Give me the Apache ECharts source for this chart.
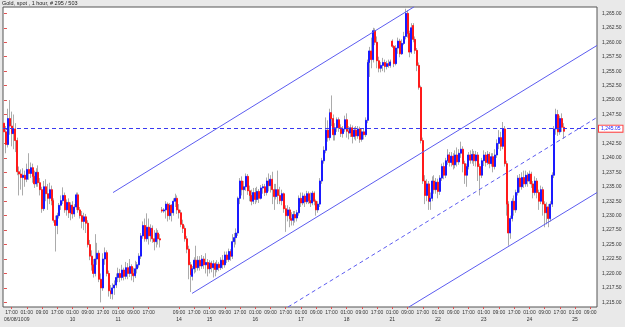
<!DOCTYPE html>
<html><head><meta charset="utf-8">
<script src="https://cdn.jsdelivr.net/npm/echarts@6/dist/echarts.min.js"></script>
<style>html,body{margin:0;padding:0;background:#e9e9e9}#c{width:625px;height:327px}</style>
</head><body><div id="c"></div>
<script>
const chartTitle = 'Gold, spot , 1 hour, # 295 / 503';
const firstDateLabel = '06/08/10';
// hourly sessions: [date, first hour, last hour]
const daySegments = [
  ['06/08',13,23],['06/09',0,23],['06/10',0,23],['06/11',0,23],['06/13',23,23],['06/14',0,0],['06/14',2,23],
  ['06/15',0,23],['06/16',0,23],['06/17',0,23],['06/18',0,21],['06/20',22,23],['06/21',0,23],['06/22',0,23],
  ['06/23',0,23],['06/24',0,23],['06/25',0,12]
];
const labelHours = [1, 9, 17];
const yTickValues = [1215,1217.5,1220,1222.5,1225,1227.5,1230,1232.5,1235,1237.5,1240,1242.5,1245,1247.5,1250,1252.5,1255,1257.5,1260,1262.5,1265];
const currentPrice = 1245.05;

const opens = [
1246.0,1244.5,1242.3,1246.8,1245.5,1244.2,1245.0,1243.0,1237.6,1237.2,
1236.6,1237.0,1236.3,1238.0,1237.3,1238.3,1236.8,1235.5,1237.5,1235.7,
1234.5,1231.2,1235.0,1233.8,1233.0,1234.5,1232.6,1229.2,1228.3,1230.0,
1231.8,1232.6,1233.5,1231.0,1232.3,1230.5,1231.8,1230.3,1231.5,1233.6,
1231.0,1230.0,1229.0,1229.8,1228.7,1225.0,1223.0,1221.5,1220.0,1222.5,
1223.5,1219.0,1217.5,1222.5,1223.6,1220.0,1217.0,1216.5,1217.5,1218.0,
1219.3,1220.0,1219.3,1220.6,1219.5,1221.0,1220.0,1221.2,1220.0,1219.6,
1220.8,1221.5,1223.0,1226.5,1228.3,1226.0,1228.0,1226.5,1227.8,1226.0,
1225.5,1227.0,1226.0,1231.0,1230.8,1231.0,1232.0,1230.0,1231.8,1230.5,
1232.5,1233.0,1231.0,1230.5,1228.5,1227.8,1226.0,1224.2,1221.5,1219.5,
1220.8,1222.3,1221.0,1222.3,1221.3,1222.5,1221.5,1221.9,1220.8,1221.8,
1221.0,1221.7,1220.7,1221.6,1221.0,1222.3,1221.5,1223.2,1222.4,1223.8,
1223.0,1225.5,1226.2,1227.0,1233.0,1236.0,1234.5,1235.0,1236.8,1234.3,
1233.5,1232.5,1234.0,1232.8,1234.2,1233.0,1234.8,1235.0,1234.0,1236.0,
1235.2,1236.3,1234.5,1233.3,1234.5,1233.5,1232.6,1233.8,1231.2,1230.0,
1231.0,1229.5,1229.2,1230.2,1229.6,1230.5,1233.0,1232.2,1233.4,1232.4,
1233.8,1232.6,1232.2,1233.9,1232.5,1231.0,1232.0,1236.0,1239.5,1241.3,
1244.8,1243.5,1247.8,1246.8,1244.0,1245.2,1246.6,1245.2,1244.2,1245.0,
1246.6,1244.6,1244.3,1245.2,1243.7,1244.8,1243.8,1245.0,1243.2,1244.5,
1244.0,1246.5,1256.5,1258.5,1257.0,1262.0,1260.0,1256.8,1255.5,1256.0,
1256.5,1255.8,1256.3,1256.0,1260.2,1259.3,1256.3,1259.0,1260.2,1258.0,
1259.8,1261.0,1265.0,1261.5,1258.3,1262.9,1260.5,1258.6,1256.0,1252.2,
1243.0,1236.0,1233.5,1235.5,1232.5,1233.0,1236.0,1234.5,1235.8,1234.2,
1236.5,1238.5,1237.0,1239.5,1240.5,1239.2,1240.3,1238.8,1240.5,1239.3,
1240.8,1241.5,1239.0,1237.0,1238.5,1240.5,1239.6,1240.6,1239.5,1240.5,
1238.5,1237.0,1239.5,1240.5,1239.2,1240.6,1239.0,1240.2,1238.5,1240.5,
1242.5,1243.5,1242.0,1245.0,1239.0,1232.0,1227.0,1229.5,1232.5,1231.0,
1234.0,1236.5,1235.0,1236.6,1235.5,1237.0,1236.0,1237.2,1235.5,1234.0,
1236.0,1234.0,1232.5,1234.5,1232.0,1230.5,1231.5,1229.5,1232.0,1237.0,
1245.0,1247.5,1244.5,1246.8,1245.3
];
const closes = [
1244.5,1242.3,1246.8,1245.5,1244.2,1245.0,1243.0,1237.6,1237.2,1236.6,
1237.0,1236.3,1238.0,1237.3,1238.3,1236.8,1235.5,1237.5,1235.7,1234.5,
1231.2,1235.0,1233.8,1233.0,1234.5,1232.6,1229.2,1228.3,1230.0,1231.8,
1232.6,1233.5,1231.0,1232.3,1230.5,1231.8,1230.3,1231.5,1233.6,1231.0,
1230.0,1229.0,1229.8,1228.7,1225.0,1223.0,1221.5,1220.0,1222.5,1223.5,
1219.0,1217.5,1222.5,1223.6,1220.0,1217.0,1216.5,1217.5,1218.0,1219.3,
1220.0,1219.3,1220.6,1219.5,1221.0,1220.0,1221.2,1220.0,1219.6,1220.8,
1221.5,1223.0,1226.5,1228.3,1226.0,1228.0,1226.5,1227.8,1226.0,1225.5,
1227.0,1226.0,1225.8,1230.8,1231.0,1232.0,1230.0,1231.8,1230.5,1232.5,
1233.0,1231.0,1230.5,1228.5,1227.8,1226.0,1224.2,1221.5,1219.8,1220.8,
1222.3,1221.0,1222.3,1221.3,1222.5,1221.5,1221.9,1220.8,1221.8,1221.0,
1221.7,1220.7,1221.6,1221.0,1222.3,1221.5,1223.2,1222.4,1223.8,1223.0,
1225.5,1226.2,1227.0,1233.0,1236.0,1234.5,1235.0,1236.8,1234.3,1233.5,
1232.5,1234.0,1232.8,1234.2,1233.0,1234.8,1235.0,1234.0,1236.0,1235.2,
1236.3,1234.5,1233.3,1234.5,1233.5,1232.6,1233.8,1231.2,1230.0,1231.0,
1229.5,1229.2,1230.2,1229.6,1230.5,1233.0,1232.2,1233.4,1232.4,1233.8,
1232.6,1232.2,1233.9,1232.5,1231.0,1232.0,1236.0,1239.5,1241.3,1244.8,
1243.5,1247.8,1246.8,1244.0,1245.2,1246.6,1245.2,1244.2,1245.0,1246.6,
1244.6,1244.3,1245.2,1243.7,1244.8,1243.8,1245.0,1243.2,1244.5,1244.0,
1246.5,1256.5,1258.5,1257.0,1262.0,1260.0,1256.8,1255.5,1256.0,1256.5,
1255.8,1256.3,1256.0,1256.6,1259.3,1256.3,1259.0,1260.2,1258.0,1259.8,
1261.0,1265.0,1261.5,1258.3,1262.5,1260.5,1258.6,1256.0,1252.2,1243.0,
1236.0,1233.5,1235.5,1232.5,1233.0,1236.0,1234.5,1235.8,1234.2,1236.5,
1238.5,1237.0,1239.5,1240.5,1239.2,1240.3,1238.8,1240.5,1239.3,1240.8,
1241.5,1239.0,1237.0,1238.5,1240.5,1239.6,1240.6,1239.5,1240.5,1238.5,
1237.0,1239.5,1240.5,1239.2,1240.6,1239.0,1240.2,1238.5,1240.5,1242.5,
1243.5,1242.0,1245.0,1239.0,1232.0,1227.0,1229.5,1232.5,1231.0,1234.0,
1236.5,1235.0,1236.6,1235.5,1237.0,1236.0,1237.2,1235.5,1234.0,1236.0,
1234.0,1232.5,1234.5,1232.0,1230.5,1231.5,1229.5,1232.0,1237.0,1245.0,
1247.5,1244.5,1246.8,1245.3,1244.6
];
const lows = [
1242.5,1240.8,1241.8,1244.0,1242.0,1241.5,1241.0,1237.0,1233.5,1234.5,
1233.5,1235.0,1235.8,1236.2,1236.5,1235.7,1234.8,1235.0,1235.0,1233.5,
1230.5,1230.8,1232.5,1231.0,1232.0,1231.8,1228.8,1223.8,1226.8,1229.5,
1231.0,1232.0,1230.5,1230.0,1229.6,1229.2,1229.5,1229.8,1231.0,1230.5,
1229.5,1227.8,1227.5,1227.0,1224.5,1222.3,1220.5,1219.3,1219.5,1221.5,
1218.5,1215.0,1217.0,1221.5,1219.5,1216.0,1215.6,1215.5,1216.3,1217.5,
1218.5,1218.5,1218.8,1218.8,1219.0,1219.0,1219.4,1218.8,1218.5,1219.2,
1220.0,1221.0,1222.5,1226.0,1225.5,1225.5,1225.0,1225.5,1225.3,1224.0,
1224.5,1225.0,1224.5,1230.5,1230.5,1229.5,1229.0,1229.3,1229.0,1230.0,
1231.5,1230.3,1229.5,1228.0,1227.0,1225.5,1223.5,1219.0,1216.8,1218.8,
1220.0,1220.2,1220.5,1220.5,1220.8,1220.8,1220.0,1219.5,1220.0,1220.2,
1219.3,1219.5,1220.2,1220.4,1220.6,1220.8,1221.0,1221.8,1222.0,1222.2,
1222.5,1224.5,1225.0,1226.5,1232.0,1233.5,1232.8,1234.3,1233.6,1232.5,
1231.8,1232.0,1232.0,1232.3,1232.2,1232.8,1233.8,1233.4,1233.5,1234.2,
1234.0,1232.0,1231.0,1232.8,1232.0,1232.0,1231.8,1230.5,1227.2,1229.0,
1228.0,1228.3,1228.3,1228.8,1229.0,1230.0,1231.5,1231.8,1231.5,1232.0,
1232.0,1231.5,1231.8,1231.8,1230.0,1230.5,1231.5,1235.5,1239.0,1240.8,
1242.8,1243.0,1245.5,1243.0,1243.0,1244.5,1244.5,1243.6,1243.5,1244.5,
1243.5,1243.2,1243.6,1242.5,1243.2,1243.0,1243.3,1242.6,1242.8,1243.2,
1243.6,1246.0,1254.0,1255.5,1256.5,1259.5,1255.5,1254.8,1254.8,1255.0,
1254.8,1255.3,1255.6,1255.6,1259.0,1255.7,1256.0,1258.0,1257.4,1257.8,
1259.5,1260.5,1260.8,1257.4,1258.0,1260.0,1258.0,1255.0,1251.8,1242.5,
1235.5,1232.0,1232.5,1231.0,1231.0,1232.5,1233.8,1233.8,1233.0,1233.6,
1236.0,1236.3,1236.5,1238.8,1238.5,1238.5,1238.0,1238.2,1238.5,1238.8,
1240.0,1237.5,1235.5,1235.0,1238.0,1239.0,1239.0,1238.6,1238.5,1236.0,
1233.5,1236.5,1238.6,1238.5,1238.8,1238.2,1238.5,1237.5,1238.0,1240.0,
1241.5,1241.2,1241.5,1238.5,1230.0,1224.8,1226.0,1229.0,1230.0,1230.5,
1233.5,1234.0,1234.5,1234.8,1235.0,1235.0,1235.5,1234.8,1233.0,1233.5,
1233.0,1231.0,1232.0,1230.0,1228.0,1228.5,1228.0,1229.0,1231.5,1236.5,
1244.0,1243.8,1244.0,1244.5,1243.3
];
const highs = [
1247.0,1245.5,1248.5,1250.0,1248.0,1247.5,1246.0,1243.5,1238.5,1238.0,
1238.2,1237.8,1239.0,1240.8,1239.2,1239.0,1237.8,1238.2,1238.7,1236.5,
1235.0,1236.0,1236.3,1235.5,1235.7,1235.2,1233.0,1230.0,1230.5,1232.2,
1233.5,1234.9,1234.0,1232.8,1233.0,1232.3,1232.5,1232.0,1234.0,1234.0,
1231.5,1230.8,1230.5,1230.3,1229.2,1225.8,1224.0,1222.5,1226.8,1225.3,
1224.0,1220.0,1223.5,1224.5,1224.0,1220.5,1218.0,1218.3,1218.8,1220.0,
1221.0,1220.8,1221.5,1221.0,1222.0,1221.8,1222.5,1221.6,1221.0,1222.2,
1222.0,1223.5,1227.0,1229.0,1229.5,1230.4,1229.5,1228.5,1228.3,1227.5,
1227.8,1227.5,1226.8,1231.5,1231.3,1232.5,1232.3,1232.2,1232.0,1233.0,
1233.8,1233.5,1232.0,1231.0,1229.3,1228.3,1226.5,1224.8,1222.0,1221.3,
1222.8,1224.8,1223.0,1223.0,1223.2,1223.0,1223.5,1222.5,1222.3,1222.2,
1222.3,1222.0,1222.3,1222.0,1222.8,1223.2,1223.8,1223.8,1224.3,1224.2,
1226.8,1227.0,1227.8,1233.3,1236.5,1236.8,1236.0,1237.3,1237.2,1235.2,
1234.5,1234.8,1234.8,1235.0,1234.6,1235.3,1235.5,1235.5,1236.6,1237.3,
1237.0,1237.6,1235.5,1235.5,1237.8,1235.0,1234.5,1234.0,1231.8,1231.8,
1231.5,1230.6,1230.8,1230.8,1231.0,1233.5,1234.0,1234.0,1233.8,1234.3,
1234.2,1234.0,1234.3,1234.2,1232.8,1232.5,1236.5,1240.0,1242.0,1247.0,
1246.5,1248.5,1250.8,1247.5,1246.0,1247.0,1247.0,1245.8,1245.5,1247.3,
1247.7,1245.5,1245.8,1245.6,1245.3,1245.5,1245.5,1245.4,1245.0,1245.0,
1247.0,1257.0,1259.2,1260.8,1262.5,1262.4,1261.0,1257.5,1256.6,1257.3,
1257.0,1256.8,1257.0,1257.0,1260.5,1259.5,1259.5,1260.8,1260.6,1260.5,
1261.8,1265.8,1265.5,1262.0,1263.3,1263.3,1261.0,1259.0,1256.5,1252.5,
1243.5,1237.0,1236.3,1236.0,1234.0,1236.8,1237.0,1236.5,1236.4,1237.0,
1239.0,1239.2,1240.0,1241.5,1241.0,1241.0,1240.8,1241.3,1241.8,1241.5,
1242.8,1242.0,1239.5,1239.0,1241.0,1241.3,1241.5,1241.2,1241.2,1241.0,
1239.0,1240.0,1241.3,1241.0,1241.2,1241.0,1240.8,1240.8,1241.5,1243.2,
1244.8,1244.5,1246.2,1245.5,1239.5,1232.5,1230.0,1233.0,1233.5,1234.5,
1237.0,1237.2,1237.5,1237.8,1237.8,1237.5,1237.8,1237.6,1236.0,1236.8,
1236.5,1234.5,1235.2,1235.0,1232.5,1232.3,1232.0,1232.5,1237.5,1245.5,
1248.5,1248.3,1247.3,1247.7,1246.0
];
// drawn channel lines: [bar index, price] endpoints
const upperLine  = [[57.3, 1234.0], [215.5, 1266.15]];
const middleLine = [[98.8, 1216.55], [311.5, 1259.45]];
const dashedLine = [[149.2, 1214.2], [311.5, 1247.0]];
const lowerLine  = [[212.7, 1214.2], [311.5, 1234.0]];

// ---- build categories & labels ----
const categories = [];
daySegments.forEach(([d, h0, h1]) => { for (let h = h0; h <= h1; h++) categories.push(d + ' ' + String(h).padStart(2, '0') + ':00'); });
const labelText = {};
let prevDate = categories[0].split(' ')[0];
categories.forEach((c, i) => {
  if (i === 0) return;
  const [d, t] = c.split(' ');
  const hr = parseInt(t, 10);
  if (labelHours.includes(hr)) { labelText[i] = t + (d !== prevDate ? '\n' + d.slice(3) : ''); prevDate = d; }
});
const nCat = categories.length;

const wickData = opens.map((o, i) => [o, closes[i], lows[i], highs[i]]);
const bodyData = opens.map((o, i) => [o, closes[i], Math.min(o, closes[i]), Math.max(o, closes[i])]);
const fmt = v => Number(v).toLocaleString('en-US', {minimumFractionDigits: 2, maximumFractionDigits: 2});
const FONT = 'Liberation Sans';

const lineSeries = (d, dashed) => ({
  type: 'line', xAxisIndex: 1, yAxisIndex: 0, data: d, symbol: 'none', silent: true, clip: true,
  lineStyle: {color: '#5c5cf0', width: 1, type: dashed ? [4, 3] : 'solid'}, z: 5
});

const chart = echarts.init(document.getElementById('c'), null, {renderer: 'canvas'});
chart.setOption({
  animation: false,
  backgroundColor: '#e9e9e9',
  title: {text: chartTitle, left: 2, top: 0, padding: 0,
    textStyle: {fontSize: 5.5, fontWeight: 'normal', color: '#222', fontFamily: FONT}},
  grid: {left: 3, right: 28, top: 7, bottom: 20, show: true, backgroundColor: '#ffffff',
    borderColor: '#555', borderWidth: 1, containLabel: false},
  xAxis: [{
    type: 'category', data: categories, boundaryGap: true,
    axisLine: {show: false},
    axisTick: {show: true, alignWithLabel: true, length: 2, interval: (i) => labelText[i] !== undefined,
      lineStyle: {color: '#e05050'}},
    axisLabel: {interval: (i) => labelText[i] !== undefined, formatter: (v, i) => labelText[i],
      fontSize: 5, lineHeight: 7, margin: 2, color: '#333', fontFamily: FONT, hideOverlap: false},
    splitLine: {show: false}
  }, {
    type: 'value', min: -0.5, max: nCat - 0.5, show: false
  }, {
    // first-bar date label on the second label row
    type: 'category', data: categories, boundaryGap: true, position: 'bottom',
    axisLine: {show: false}, axisTick: {show: false}, splitLine: {show: false},
    axisLabel: {interval: (i) => i === 0, formatter: () => firstDateLabel, showMinLabel: true,
      alignMinLabel: 'left', fontSize: 5, lineHeight: 7, margin: 9, color: '#333', fontFamily: FONT}
  }],
  yAxis: [{
    type: 'value', position: 'right', min: 1214.2, max: 1266.1, scale: true,
    splitLine: {show: false}, axisLine: {show: false},
    axisTick: {show: true, length: 3, customValues: yTickValues, lineStyle: {color: '#e05050'}},
    axisLabel: {customValues: yTickValues, formatter: fmt, fontSize: 5, margin: 5, color: '#333', fontFamily: FONT}
  }],
  series: [
    {type: 'candlestick', name: 'wick', data: wickData, barWidth: 1, silent: true,
      itemStyle: {color: '#ababab', color0: '#ababab', borderColor: '#ababab', borderColor0: '#ababab', borderWidth: 1}},
    {type: 'candlestick', name: 'body', data: bodyData, barWidth: 1.5, silent: true,
      itemStyle: {color: '#1a1aff', color0: '#ff1a1a', borderColor: '#1a1aff', borderColor0: '#ff1a1a', borderWidth: 1},
      markLine: {symbol: 'none', silent: true, animation: false,
        data: [{yAxis: currentPrice}],
        lineStyle: {color: '#3a3af0', width: 1, type: [4, 3]},
        label: {position: 'end', distance: 2, formatter: () => fmt(currentPrice), fontSize: 5, color: '#2020ff',
          fontFamily: FONT, backgroundColor: '#ffffff', borderColor: '#ff4040', borderWidth: 1, padding: [1, 2, 0, 2]}}},
    lineSeries(upperLine, false),
    lineSeries(middleLine, false),
    lineSeries(dashedLine, true),
    lineSeries(lowerLine, false)
  ]
});
</script></body></html>
